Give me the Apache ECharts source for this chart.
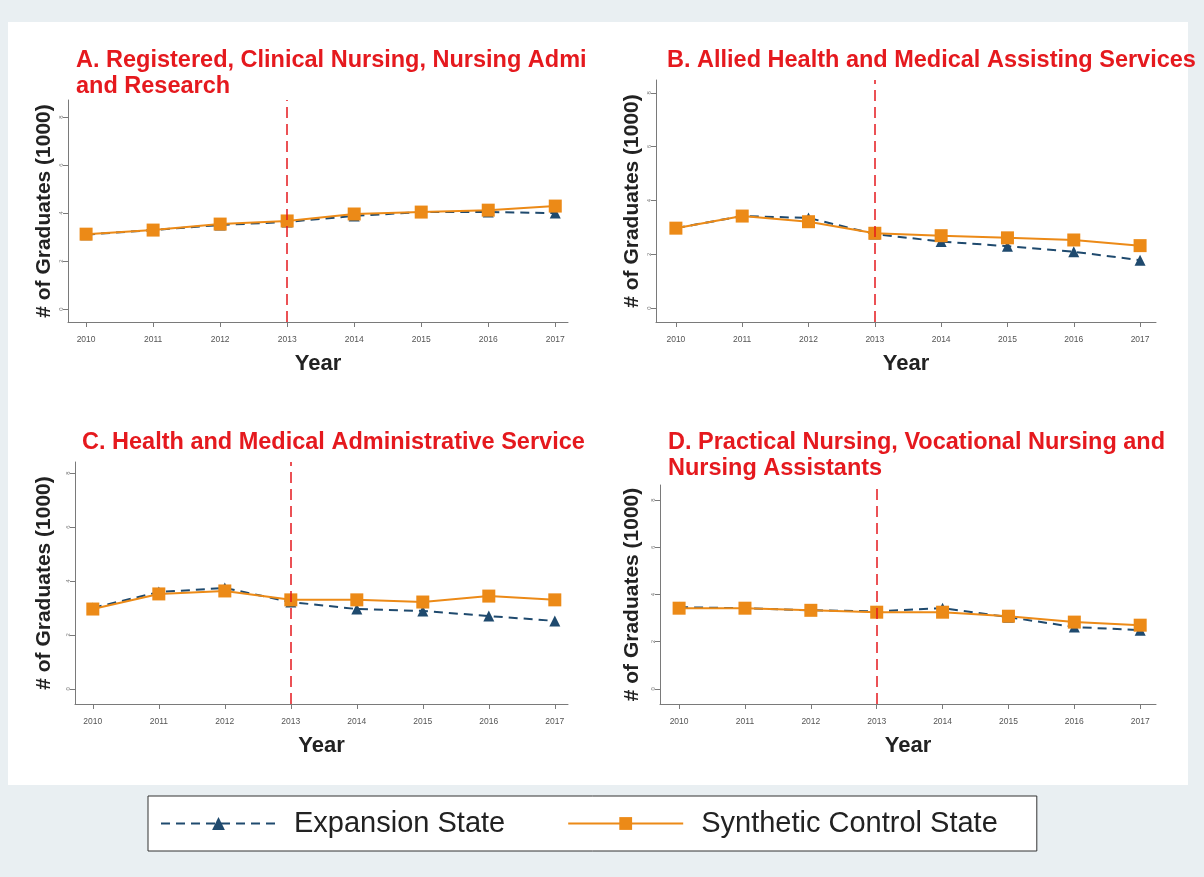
<!DOCTYPE html>
<html>
<head>
<meta charset="utf-8">
<script src="https://cdn.jsdelivr.net/npm/echarts@6/dist/echarts.min.js"></script>
<style>
html,body{margin:0;padding:0;background:#e9eff2;}
#chart{width:1204px;height:877px;}
</style>
</head>
<body>
<div id="chart"></div>
<script>
// ---- data ----
const years = [2010, 2011, 2012, 2013, 2014, 2015, 2016, 2017];
const yTicks = [0, 2, 4, 6, 8];
const panelTitles = [
  'A. Registered, Clinical Nursing, Nursing Admi\nand Research',
  'B. Allied Health and Medical Assisting Services',
  'C. Health and Medical Administrative Service',
  'D. Practical Nursing, Vocational Nursing and\nNursing Assistants'
];
const seriesNames = ['Expansion State', 'Synthetic Control State'];
const expA = [3.10, 3.29, 3.50, 3.63, 3.88, 4.04, 4.04, 4.00];
const synA = [3.12, 3.29, 3.54, 3.67, 3.96, 4.04, 4.12, 4.29];
const expB = [2.97, 3.42, 3.35, 2.75, 2.47, 2.30, 2.09, 1.78];
const synB = [2.97, 3.42, 3.21, 2.78, 2.69, 2.61, 2.53, 2.32];
const expC = [3.00, 3.59, 3.74, 3.22, 2.96, 2.89, 2.70, 2.52];
const synC = [2.96, 3.52, 3.63, 3.30, 3.30, 3.22, 3.44, 3.30];
const expD = [3.46, 3.42, 3.33, 3.29, 3.42, 3.04, 2.62, 2.49];
const synD = [3.42, 3.42, 3.33, 3.25, 3.25, 3.08, 2.83, 2.70];
const treatYear = 2013;

// ---- layout ----
const FONT = 'Liberation Sans, Arial, sans-serif';
const NAVY = '#1f4a6e';
const ORANGE = '#ec8a17';
const RED = '#e5191e';
const AX = '#7a7a7a';

const panels = [
  {exp: expA, syn: synA, grid: {left: 68, top: 100, width: 500, height: 222}, x: [2009.73, 2017.19], y: [-0.54, 8.71], yGap: 13, title: {left: 76, top: 48}},
  {exp: expB, syn: synB, grid: {left: 656, top: 80, width: 500, height: 242}, x: [2009.70, 2017.24], y: [-0.52, 8.48], yGap: 13, title: {left: 667, top: 48}},
  {exp: expC, syn: synC, grid: {left: 75, top: 462, width: 493, height: 242}, x: [2009.73, 2017.20], y: [-0.56, 8.41], yGap: 20, title: {left: 82, top: 430}},
  {exp: expD, syn: synD, grid: {left: 660, top: 485, width: 496, height: 219}, x: [2009.71, 2017.24], y: [-0.64, 8.64], yGap: 17, title: {left: 668, top: 430}}
];

const grids = [], xAxes = [], yAxes = [], series = [], titles = [];
panels.forEach((p, i) => {
  grids.push(Object.assign({containLabel: false}, p.grid));
  titles.push({
    text: panelTitles[i], left: p.title.left, top: p.title.top, padding: 0,
    textStyle: {color: RED, fontSize: 23.5, fontWeight: 'bold', fontFamily: FONT, lineHeight: 26}
  });
  xAxes.push({
    type: 'value', gridIndex: i, min: p.x[0], max: p.x[1],
    axisLine: {show: true, onZero: false, lineStyle: {color: AX, width: 1}},
    axisTick: {show: true, customValues: years, length: 5, lineStyle: {color: AX}},
    axisLabel: {customValues: years, fontSize: 8.5, color: '#555', margin: 13, fontFamily: FONT, formatter: v => String(v)},
    splitLine: {show: false},
    name: 'Year', nameLocation: 'middle', nameGap: 31,
    nameTextStyle: {fontSize: 22, fontWeight: 'bold', color: '#222', fontFamily: FONT}
  });
  yAxes.push({
    type: 'value', gridIndex: i, min: p.y[0], max: p.y[1],
    axisLine: {show: true, onZero: false, lineStyle: {color: AX, width: 1}},
    axisTick: {show: true, customValues: yTicks, length: 5, lineStyle: {color: AX}},
    axisLabel: {customValues: yTicks, fontSize: 6, color: '#777', margin: 4, rotate: 90, fontFamily: FONT},
    splitLine: {show: false},
    name: '# of Graduates (1000)', nameLocation: 'middle', nameGap: p.yGap,
    nameTextStyle: {fontSize: 21, fontWeight: 'bold', color: '#222', fontFamily: FONT}
  });
  series.push({
    name: seriesNames[0], type: 'line', xAxisIndex: i, yAxisIndex: i, z: 2,
    data: years.map((y, k) => [y, p.exp[k]]),
    symbol: 'triangle', symbolSize: 11, showSymbol: true,
    lineStyle: {color: NAVY, width: 2, type: [9, 6]},
    itemStyle: {color: NAVY},
    animation: false
  });
  series.push({
    name: seriesNames[1], type: 'line', xAxisIndex: i, yAxisIndex: i, z: 3,
    data: years.map((y, k) => [y, p.syn[k]]),
    symbol: 'rect', symbolSize: 13, showSymbol: true,
    lineStyle: {color: ORANGE, width: 2},
    itemStyle: {color: ORANGE},
    animation: false,
    markLine: {
      silent: true, symbol: ['none', 'none'], label: {show: false},
      lineStyle: {color: RED, type: [11, 6], width: 1.5},
      data: [{xAxis: treatYear}], animation: false
    }
  });
});

const chart = echarts.init(document.getElementById('chart'), null, {renderer: 'canvas'});
chart.setOption({
  animation: false,
  backgroundColor: '#e9eff2',
  textStyle: {fontFamily: FONT},
  graphic: [
    {type: 'rect', z: -10, shape: {x: 8, y: 22, width: 1180, height: 763}, style: {fill: '#ffffff'}}
  ],
  title: titles,
  grid: grids,
  xAxis: xAxes,
  yAxis: yAxes,
  legend: {
    data: seriesNames, left: 148, top: 796, orient: 'horizontal',
    backgroundColor: '#ffffff', borderColor: '#333', borderWidth: 1,
    padding: [13, 39, 13, 12], itemGap: 62, itemWidth: 115, itemHeight: 16,
    textStyle: {fontSize: 29, color: '#222', fontFamily: FONT, padding: [0, 0, 0, 13]},
    selectedMode: false
  },
  series: series
});
</script>
</body>
</html>
